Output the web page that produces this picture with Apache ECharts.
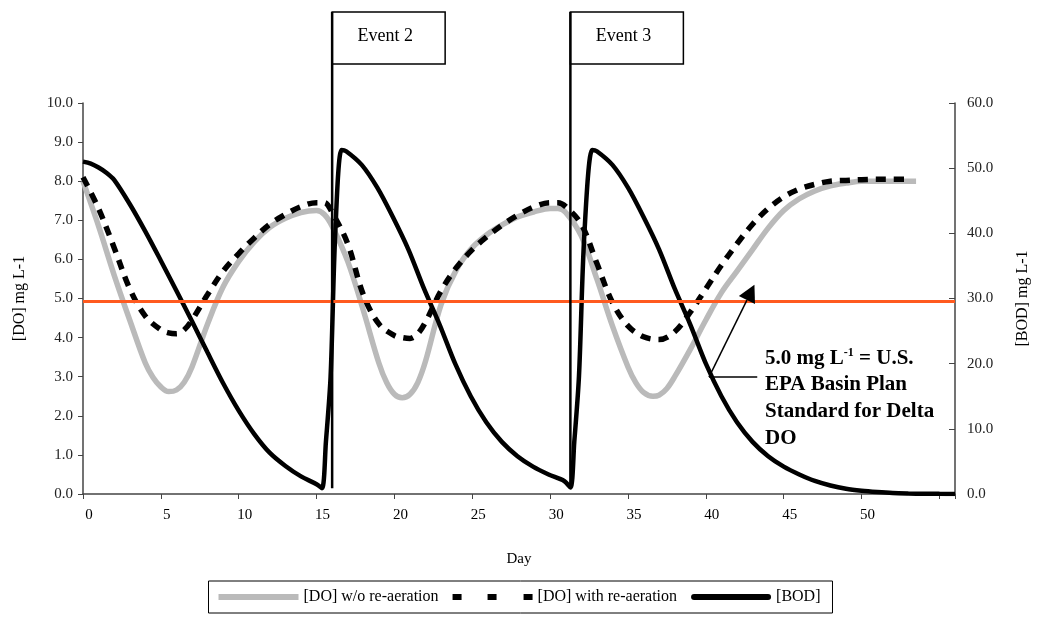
<!DOCTYPE html>
<html>
<head>
<meta charset="utf-8">
<script src="https://cdn.jsdelivr.net/npm/echarts@6/dist/echarts.min.js"></script>
<style>
html,body{margin:0;padding:0;background:#fff;}
#main{width:1039px;height:623px;}
</style>
</head>
<body>
<div id="main"></div>
<script>
// ---------- DATA ----------
const seriesNames = ['[DO] w/o re-aeration', '[DO] with re-aeration', '[BOD]'];

const doNoAerDays = [0,1,2,3,4,4.5,5,5.5,6,6.5,7,8,9,10,11,12,13,14,15,15.5,16,17,18,19,19.5,20,20.5,21,21.5,22,23,24,25,26,27,28,29,30,30.5,31,32,33,34,35,35.5,36,36.6,37,37.5,38,39,40,41,42,43,44,45,46,47,48,49,50,51,52,53,53.5];
const doNoAerVals = [8.0,6.85,5.6,4.45,3.35,2.98,2.74,2.62,2.66,2.86,3.25,4.35,5.3,5.95,6.45,6.82,7.05,7.2,7.25,7.15,6.85,5.95,4.7,3.35,2.85,2.55,2.46,2.55,2.85,3.4,4.85,5.75,6.3,6.65,6.9,7.1,7.22,7.3,7.3,7.2,6.6,5.5,4.3,3.25,2.85,2.6,2.5,2.53,2.7,3.0,3.7,4.45,5.15,5.7,6.25,6.8,7.25,7.55,7.75,7.88,7.95,8.0,8.0,8.0,8.0,8.0];

const doAerDays = [0,1,2,3,4,5,5.5,6,6.5,7,8,9,10,11,12,13,14,15,15.5,16,17,18,19,20,20.5,21,21.5,22,23,24,25,26,27,28,29,30,30.5,31,32,33,34,35,36,37,38,39,40,41,42,43,44,45,46,47,48,49,50,51,52,53];
const doAerVals = [8.1,7.3,6.3,5.25,4.55,4.2,4.12,4.1,4.2,4.45,5.1,5.7,6.15,6.55,6.9,7.15,7.35,7.45,7.45,7.2,6.4,5.1,4.35,4.05,4.0,3.98,4.1,4.4,5.2,5.8,6.25,6.6,6.9,7.15,7.35,7.45,7.45,7.35,6.9,5.9,4.9,4.3,4.02,3.95,4.15,4.65,5.25,5.85,6.4,6.9,7.3,7.6,7.8,7.92,8.0,8.02,8.04,8.05,8.05,8.05];

const bodDays = [0,0.5,1,1.5,2,3,4,5,6,7,8,9,10,11,12,13,14,15,15.35,15.6,15.9,16.2,16.6,16.9,17.9,18.9,19.9,20.9,21.9,22.9,23.9,24.9,25.9,26.9,27.9,28.9,29.9,30.9,31.3,31.55,31.85,32.2,32.7,33,34,35,36,37,38,39,40,41,42,43,44,45,46,47,48,49,50,51,52,53,54,55,56];
const bodVals = [51,50.7,50.1,49.3,48.2,44.5,40.3,35.8,31.2,26.5,21.7,17,12.8,9.2,6.3,4.3,2.7,1.5,0.9,8,18,40,52.8,52.6,50.5,47,42.5,37.5,31.5,26,20,15,11,8,5.8,4.2,3,2,1.0,8,18,40,52.8,52.6,50.5,47,42.5,37.5,31.5,26,20,15,11,8,5.8,4.2,3,2,1.3,0.8,0.5,0.3,0.15,0.08,0.04,0.02,0.01];

const standardDO = 4.93;
const eventDays = [16.0, 31.3];
const eventLabels = ['Event 2', 'Event 3'];
const noteLines = ['5.0 mg L', 'EPA Basin Plan', 'Standard for Delta', 'DO'];

const xTickMax = 50;
// ---------- CHART ----------
const serif = "'Liberation Serif', 'DejaVu Serif', serif";
function pairs(xs, ys){ return xs.map((x,i)=>[x, ys[i]]); }

const chart = echarts.init(document.getElementById('main'), null, {renderer:'canvas'});
const option = {
  animation: false,
  backgroundColor: '#fff',
  grid: {left: 83, right: 79, top: 103, bottom: 129},
  legend: {
    data: [
      {name: seriesNames[0], icon: 'path://M0,0H80V6H0Z'},
      {name: seriesNames[1], icon: 'path://M0,0H9V6H0Z M35,0H44V6H35Z M71,0H80V6H71Z'},
      {name: seriesNames[2], icon: 'path://M3,0H77A3,3 0 0 1 77,6H3A3,3 0 0 1 3,0Z'}
    ],
    left: 'center',
    top: 581,
    borderColor: '#000',
    borderWidth: 1,
    borderRadius: 0,
    padding: [8, 12, 8, 10],
    itemGap: 14,
    itemWidth: 80,
    itemHeight: 6,
    symbolKeepAspect: false,
    textStyle: {fontFamily: serif, fontSize: 16, color: '#000'}
  },
  xAxis: {
    type: 'value', min: 0, max: 56, interval: 5,
    name: 'Day', nameLocation: 'middle', nameGap: 58,
    nameTextStyle: {fontFamily: serif, fontSize: 15, color: '#000'},
    axisLine: {lineStyle: {color: '#444', width: 1.5}},
    axisTick: {length: 5, lineStyle: {color: '#444'}},
    splitLine: {show: false},
    axisLabel: {
      fontFamily: serif, fontSize: 15, color: '#000', margin: 14,
      padding: [0,0,0,12],
      formatter: v => (v <= xTickMax && v % 5 === 0) ? String(v) : ''
    }
  },
  yAxis: [
    {
      type: 'value', min: 0, max: 10, interval: 1,
      name: '[DO] mg L-1', nameLocation: 'middle', nameGap: 55, nameRotate: 90,
      nameTextStyle: {fontFamily: serif, fontSize: 16, color: '#000'},
      axisLine: {show: true, lineStyle: {color: '#444', width: 1.5}},
      axisTick: {show: true, length: 5, lineStyle: {color: '#444'}},
      splitLine: {show: false},
      axisLabel: {fontFamily: serif, fontSize: 15, color: '#222', margin: 10, formatter: v => v.toFixed(1)}
    },
    {
      type: 'value', min: 0, max: 60, interval: 10,
      name: '[BOD] mg L-1', nameLocation: 'middle', nameGap: 60, nameRotate: 90,
      nameTextStyle: {fontFamily: serif, fontSize: 16, color: '#000'},
      axisLine: {show: true, lineStyle: {color: '#444', width: 1.5}},
      axisTick: {show: true, inside: true, length: 6, lineStyle: {color: '#444'}},
      splitLine: {show: false},
      axisLabel: {fontFamily: serif, fontSize: 15, color: '#222', margin: 12, formatter: v => v.toFixed(1)}
    }
  ],
  series: [
    {
      name: seriesNames[0], type: 'line', yAxisIndex: 0, showSymbol: false, symbol: 'none',
      smooth: 0.35,
      data: pairs(doNoAerDays, doNoAerVals),
      lineStyle: {color: '#bababa', width: 5.5},
      itemStyle: {color: '#bababa'},
      z: 2,
      markLine: {
        silent: true, symbol: 'none', animation: false,
        label: {show: false},
        lineStyle: {color: '#ff5a1f', width: 3, type: 'solid'},
        data: [{yAxis: standardDO}]
      }
    },
    {
      name: seriesNames[1], type: 'line', yAxisIndex: 0, showSymbol: false, symbol: 'none',
      smooth: 0.35,
      data: pairs(doAerDays, doAerVals),
      lineStyle: {color: '#000', width: 5.5, type: [10, 8]},
      itemStyle: {color: '#000'},
      z: 3
    },
    {
      name: seriesNames[2], type: 'line', yAxisIndex: 1, showSymbol: false, symbol: 'none',
      smooth: 0.3,
      data: pairs(bodDays, bodVals),
      lineStyle: {color: '#000', width: 4.5},
      itemStyle: {color: '#000'},
      z: 4
    }
  ]
};
chart.setOption(option);

// ---------- ANNOTATIONS (positioned through the axes) ----------
function px(d, v){ return chart.convertToPixel({xAxisIndex: 0, yAxisIndex: 0}, [d, v]); }
const graphics = [];
eventDays.forEach((d, i) => {
  const x = px(d, 0)[0];
  const bottom = px(d, 0.15)[1];
  const top = 12;
  graphics.push({type: 'rect', shape: {x: x, y: top, width: 113, height: 52},
    style: {fill: '#fff', stroke: '#000', lineWidth: 1.5}, z: 100});
  graphics.push({type: 'line', shape: {x1: x, y1: top, x2: x, y2: bottom},
    style: {stroke: '#000', lineWidth: 2.5}, z: 101});
  graphics.push({type: 'text', x: x + 53, y: 36,
    style: {text: eventLabels[i], font: '18px ' + serif, fill: '#000', textAlign: 'center', textVerticalAlign: 'middle'}, z: 102});
});

const tip = px(43.12, 5.35);
const elbow = px(40.2, 2.99);
const hEnd = px(43.3, 2.99);
const dx = tip[0] - elbow[0], dy = tip[1] - elbow[1];
const L = Math.sqrt(dx*dx + dy*dy), ux = dx / L, uy = dy / L;
const baseC = [tip[0] - ux*17, tip[1] - uy*17];
const pxp = -uy, pyp = ux;
graphics.push({type: 'line', shape: {x1: elbow[0], y1: elbow[1], x2: baseC[0], y2: baseC[1]},
  style: {stroke: '#000', lineWidth: 1.5}, z: 110});
graphics.push({type: 'line', shape: {x1: elbow[0], y1: elbow[1], x2: hEnd[0], y2: hEnd[1]},
  style: {stroke: '#000', lineWidth: 1.5}, z: 110});
graphics.push({type: 'polygon', shape: {points: [tip, [baseC[0] + pxp*9, baseC[1] + pyp*9], [baseC[0] - pxp*9, baseC[1] - pyp*9]]},
  style: {fill: '#000'}, z: 111});

const noteAnchor = px(43.8, 3.48);
graphics.push({type: 'text', x: noteAnchor[0], y: noteAnchor[1] - 13,
  style: {
    text: '{b|' + noteLines[0] + '}{s|-1}{b| = U.S.}\n{b|' + noteLines[1] + '}\n{b|' + noteLines[2] + '}\n{b|' + noteLines[3] + '}',
    rich: {
      b: {font: 'bold 21px ' + serif, fill: '#000', lineHeight: 26.7},
      s: {font: 'bold 12px ' + serif, fill: '#000', verticalAlign: 'top', lineHeight: 26.7, padding: [2,0,0,0]}
    },
    textAlign: 'left', textVerticalAlign: 'top'
  }, z: 112});

chart.setOption({graphic: graphics});
</script>
</body>
</html>
